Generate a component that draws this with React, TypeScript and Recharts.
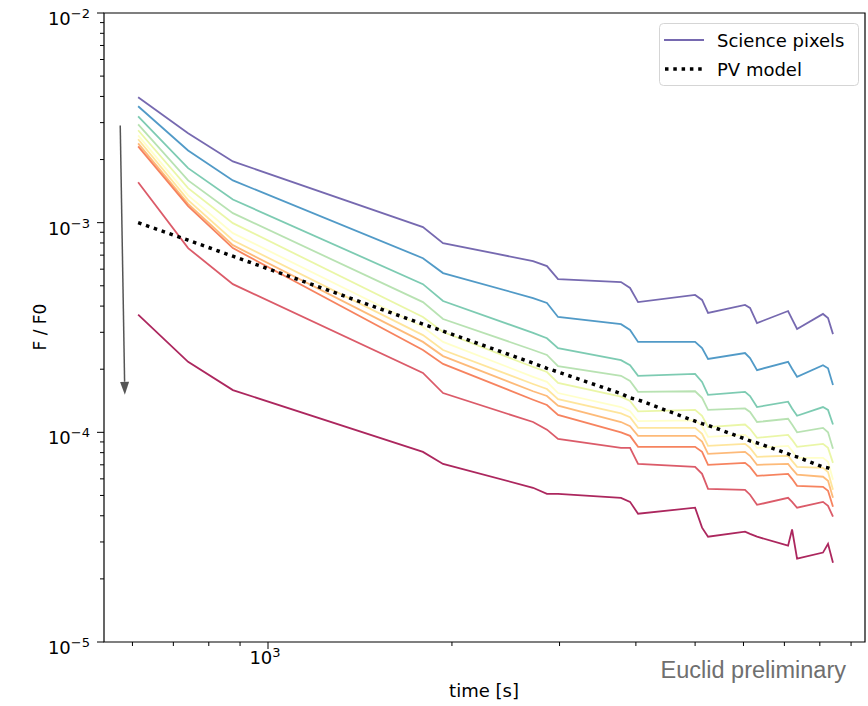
import React from 'react';
import { LineChart, Line, XAxis, YAxis, ReferenceArea, ReferenceLine, Legend } from 'recharts';

// exposure times [s]
const times = [613, 740, 876, 1793, 1934, 2715, 2861, 2983, 3782, 3913, 4033, 5000, 5133, 5250, 6035, 6150, 6314, 7098, 7206, 7343, 8096, 8251, 8407];

// F / F0 of the science pixels, in units of 1e-4 (top curve first)
const sci01 = [39.6, 26.7, 19.6, 9.52, 7.99, 6.56, 6.21, 5.38, 5.21, 4.88, 4.18, 4.52, 4.28, 3.71, 4.05, 3.92, 3.32, 3.79, 3.47, 3.11, 3.67, 3.51, 2.94];
const sci02 = [35.9, 22.1, 15.9, 6.77, 5.75, 4.37, 4.14, 3.55, 3.28, 3.08, 2.7, 2.7, 2.52, 2.24, 2.39, 2.26, 1.98, 2.17, 2.01, 1.84, 2.09, 2.02, 1.68];
const sci03 = [32.1, 18.2, 12.9, 5.09, 4.23, 2.98, 2.81, 2.52, 2.21, 2.09, 1.86, 1.9, 1.74, 1.51, 1.56, 1.49, 1.32, 1.4, 1.3, 1.2, 1.32, 1.28, 1.09];
const sci04 = [29.4, 15.9, 11.1, 4.18, 3.47, 2.47, 2.34, 2.07, 1.86, 1.76, 1.56, 1.57, 1.46, 1.28, 1.3, 1.25, 1.12, 1.16, 1.09, 1.0, 1.05, 1.0, 0.835];
const sci05 = [27.6, 14.6, 9.95, 3.55, 3.01, 2.05, 1.94, 1.72, 1.48, 1.41, 1.26, 1.28, 1.2, 1.06, 1.09, 1.04, 0.941, 0.973, 0.921, 0.853, 0.881, 0.843, 0.715];
const sci06 = [26.1, 13.5, 8.91, 3.18, 2.7, 1.84, 1.74, 1.54, 1.32, 1.26, 1.13, 1.14, 1.07, 0.952, 0.973, 0.931, 0.843, 0.862, 0.816, 0.756, 0.756, 0.723, 0.594];
const sci07 = [25.0, 12.8, 8.25, 2.91, 2.47, 1.7, 1.61, 1.44, 1.23, 1.18, 1.05, 1.05, 0.984, 0.862, 0.881, 0.843, 0.764, 0.773, 0.731, 0.684, 0.677, 0.647, 0.532];
const sci08 = [23.9, 12.3, 7.81, 2.7, 2.31, 1.57, 1.49, 1.34, 1.12, 1.07, 0.962, 0.962, 0.904, 0.79, 0.807, 0.773, 0.7, 0.707, 0.669, 0.628, 0.614, 0.587, 0.487];
const sci09 = [23.1, 12.0, 7.56, 2.47, 2.12, 1.43, 1.35, 1.21, 1.0, 0.962, 0.853, 0.853, 0.807, 0.7, 0.715, 0.684, 0.62, 0.634, 0.6, 0.556, 0.55, 0.526, 0.442];
const sci10 = [15.6, 7.56, 5.09, 1.92, 1.54, 1.12, 1.03, 0.931, 0.843, 0.843, 0.707, 0.684, 0.634, 0.538, 0.532, 0.504, 0.451, 0.487, 0.466, 0.437, 0.466, 0.446, 0.396];
const sci11 = [3.64, 2.17, 1.59, 0.807, 0.707, 0.544, 0.509, 0.509, 0.487, 0.466, 0.409, 0.437, 0.351, 0.318, 0.336, 0.328, 0.318, 0.288, 0.344, 0.25, 0.267, 0.294, 0.239];

// PV model, same units
const pvModel = [10.0, 8.25, 6.92, 3.28, 3.04, 2.14, 2.02, 1.94, 1.53, 1.46, 1.43, 1.13, 1.1, 1.08, 0.931, 0.91, 0.891, 0.79, 0.773, 0.764, 0.684, 0.677, 0.662];

const sciSeries = [sci01, sci02, sci03, sci04, sci05, sci06, sci07, sci08, sci09, sci10, sci11];
const sciColors = ['#5e4fa2', '#3288bd', '#66c2a5', '#abdda4', '#e6f598', '#ffffbf', '#fee08b', '#fdae61', '#f46d43', '#d53e4f', '#9e0142'];

const UNIT = 1e-4;
const X_DOMAIN = [539, 9485];
const Y_DOMAIN = [1e-5, 1e-2];
const xTicks = [600, 700, 800, 900, 1000, 2000, 3000, 4000, 5000, 6000, 7000, 8000, 9000];
const yTicks = [1e-5, 2e-5, 3e-5, 4e-5, 5e-5, 6e-5, 7e-5, 8e-5, 9e-5, 1e-4, 2e-4, 3e-4, 4e-4, 5e-4, 6e-4, 7e-4, 8e-4, 9e-4, 1e-3, 2e-3, 3e-3, 4e-3, 5e-3, 6e-3, 7e-3, 8e-3, 9e-3, 1e-2];

const rows = times.map((t, i) => {
  const r: any = { t, pv: pvModel[i] * UNIT };
  sciSeries.forEach((s, k) => { r['s' + k] = s[i] * UNIT; });
  return r;
});

const FONT = 'DejaVu Sans';

const isDecade = (v: number) => Math.abs(Math.log10(v) - Math.round(Math.log10(v))) < 1e-6;

const YTick = (props: any) => {
  const { x, y, payload } = props;
  const v = payload.value;
  const major = isDecade(v);
  const exp = Math.round(Math.log10(v));
  return (
    <g>
      <line x1={x - (major ? 7 : 4)} x2={x} y1={y} y2={y} stroke="#000" strokeWidth={1} />
      {major && (
        <text x={x - 14} y={y + 12} textAnchor="end" fontFamily={FONT} fontSize={18} fill="#000">
          <tspan>10</tspan>
          <tspan dy={-7} fontSize={13}>{'\u2212' + Math.abs(exp)}</tspan>
        </text>
      )}
    </g>
  );
};

const XTick = (props: any) => {
  const { x, y, payload } = props;
  const v = payload.value;
  const major = isDecade(v);
  return (
    <g>
      <line x1={x} x2={x} y1={y} y2={y + (major ? 7 : 4)} stroke="#000" strokeWidth={1} />
      {major && (
        <text x={x - 3} y={y + 22} textAnchor="middle" fontFamily={FONT} fontSize={18} fill="#000">
          <tspan>10</tspan>
          <tspan dy={-7} fontSize={13}>{Math.round(Math.log10(v))}</tspan>
        </text>
      )}
    </g>
  );
};

const ArrowShape = (props: any) => {
  const { x1, y1, x2, y2 } = props;
  const ang = Math.atan2(y2 - y1, x2 - x1);
  const len = 13;
  const half = 4.5;
  const bx = x2 - len * Math.cos(ang);
  const by = y2 - len * Math.sin(ang);
  const px = -Math.sin(ang) * half;
  const py = Math.cos(ang) * half;
  return (
    <g>
      <line x1={x1} y1={y1} x2={bx} y2={by} stroke="#555" strokeWidth={1.5} />
      <polygon points={`${x2},${y2} ${bx + px},${by + py} ${bx - px},${by - py}`} fill="#555" />
    </g>
  );
};

const LegendBox = () => (
  <svg width={200} height={63} style={{ display: 'block' }}>
    <rect x={0.5} y={0.5} width={199} height={62} rx={4} fill="rgba(255,255,255,0.8)" stroke="#d5d5d5" />
    <line x1={5} x2={45} y1={17} y2={17} stroke={sciColors[0]} strokeWidth={1.8} strokeOpacity={0.85} />
    <text x={58} y={17} dominantBaseline="central" fontFamily={FONT} fontSize={18} fill="#000">Science pixels</text>
    <line x1={6} x2={45} y1={46} y2={46} stroke="#000" strokeWidth={3.5} strokeDasharray="3.5 4.8" />
    <text x={58} y={46} dominantBaseline="central" fontFamily={FONT} fontSize={18} fill="#000">PV model</text>
  </svg>
);

export default function App() {
  return (
    <div style={{ position: 'absolute', left: 0, top: 0, width: 868, height: 706, background: '#fff' }}>
      <LineChart width={868} height={706} data={rows} margin={{ top: 13, right: 3, bottom: 0, left: 44 }}>
        <XAxis
          dataKey="t"
          type="number"
          scale="log"
          domain={X_DOMAIN}
          allowDataOverflow
          ticks={xTicks}
          interval={0}
          tick={<XTick />}
          tickLine={false}
          axisLine={false}
          tickSize={0}
          tickMargin={0}
          height={64}
        />
        <YAxis
          type="number"
          scale="log"
          domain={Y_DOMAIN}
          allowDataOverflow
          ticks={yTicks}
          interval={0}
          tick={<YTick />}
          tickLine={false}
          axisLine={false}
          tickSize={0}
          tickMargin={0}
          width={60}
        />
        <ReferenceArea x1={X_DOMAIN[0]} x2={X_DOMAIN[1]} y1={Y_DOMAIN[0]} y2={Y_DOMAIN[1]} fill="none" stroke="#000" strokeWidth={1.2} />
        {sciSeries.map((_, k) => (
          <Line
            key={k}
            dataKey={'s' + k}
            type="linear"
            stroke={sciColors[k]}
            strokeWidth={1.8}
            strokeOpacity={0.85}
            dot={false}
            isAnimationActive={false}
          />
        ))}
        <Line dataKey="pv" type="linear" stroke="#000" strokeWidth={3.5} strokeDasharray="3.5 4.8" dot={false} isAnimationActive={false} />
        <ReferenceLine segment={[{ x: 573, y: 2.91e-3 }, { x: 583, y: 1.51e-4 }]} shape={ArrowShape} />
        <Legend
          layout="horizontal"
          verticalAlign="middle"
          align="center"
          content={() => <LegendBox />}
          wrapperStyle={{ left: 659, top: 23, width: 200, height: 63 }}
        />
      </LineChart>
      <svg width={868} height={706} style={{ position: 'absolute', left: 0, top: 0, pointerEvents: 'none' }}>
        <text x={40} y={327} transform="rotate(-90 40 327)" textAnchor="middle" dominantBaseline="central" fontFamily={FONT} fontSize={17} fill="#000">F / F0</text>
        <text x={484} y={697} textAnchor="middle" fontFamily={FONT} fontSize={18} fill="#000">time [s]</text>
        <text x={846} y={678} textAnchor="end" fontFamily="Liberation Sans" fontSize={23.5} fill="#6f6f6f">Euclid preliminary</text>
      </svg>
    </div>
  );
}
